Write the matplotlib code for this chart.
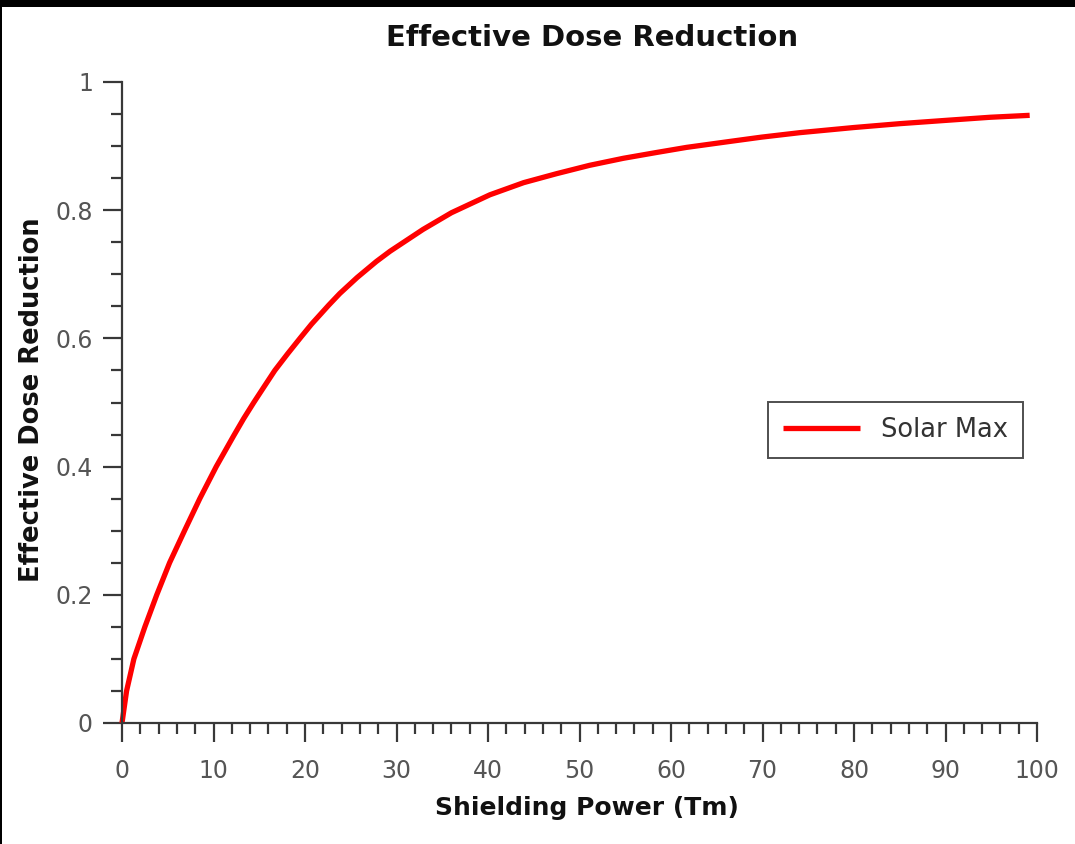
import matplotlib
matplotlib.use("Agg")
import matplotlib.pyplot as plt
from matplotlib.patches import Rectangle
from matplotlib.ticker import MultipleLocator, FuncFormatter

# Shielding power (Tm) vs. effective dose reduction, solar maximum
shielding = [0, 0.5, 1.3, 2.5, 3.8, 5.2, 6.9, 8.5, 10.3, 12.2, 13.3, 14.4, 15.5,
             16.7, 18.1, 19.5, 20.7, 22.6, 23.8, 25.7, 27.8, 29.3, 32.9, 36.0,
             40.2, 43.9, 47.5, 51.1, 54.8, 58.4, 61.7, 66.8, 69.9, 74.1, 80.0,
             85.0, 89.9, 94.9, 99.2]
dose_reduction = [0, 0.05, 0.10, 0.15, 0.20, 0.25, 0.302, 0.35, 0.40, 0.448, 0.475,
                  0.500, 0.524, 0.550, 0.576, 0.601, 0.622, 0.652, 0.670, 0.695,
                  0.720, 0.736, 0.770, 0.796, 0.824, 0.843, 0.857, 0.870, 0.881,
                  0.890, 0.898, 0.908, 0.914, 0.921, 0.929, 0.935, 0.940, 0.945,
                  0.948]
series_name = "Solar Max"

plt.rcParams['font.family'] = ['DejaVu Sans']

fig = plt.figure(figsize=(10.75, 8.44), dpi=100)
fig.patch.set_facecolor('white')
ax = fig.add_axes([122/1075, 1 - 723/844, (1037 - 122)/1075, (723 - 82)/844])

ax.plot(shielding, dose_reduction, color='#ff0000', lw=3.8, label=series_name,
        solid_joinstyle='round', solid_capstyle='butt', clip_on=False)

ax.set_xlim(0, 100)
ax.set_ylim(0, 1)
ax.xaxis.set_major_locator(MultipleLocator(10))
ax.xaxis.set_minor_locator(MultipleLocator(2))
ax.yaxis.set_major_locator(MultipleLocator(0.2))
ax.yaxis.set_minor_locator(MultipleLocator(0.05))
ax.yaxis.set_major_formatter(FuncFormatter(lambda v, p: '{:g}'.format(round(v, 2))))

for side in ['top', 'right']:
    ax.spines[side].set_visible(False)
for side in ['left', 'bottom']:
    ax.spines[side].set_color('#383838')
    ax.spines[side].set_linewidth(1.6)

ax.tick_params(which='major', direction='out', length=14, width=1.6,
               color='#383838', labelsize=17, labelcolor='#555555')
ax.tick_params(axis='x', which='major', pad=12)
ax.tick_params(axis='y', which='major', pad=7)
ax.tick_params(which='minor', direction='out', length=8, width=1.6,
               color='#383838')

leg = ax.legend(loc='center left', bbox_to_anchor=(0.706, 0.457), fontsize=18.5,
                frameon=True, fancybox=False, shadow=False, handlelength=3.0,
                borderpad=0.6, handletextpad=0.8, borderaxespad=0)
leg.get_frame().set_edgecolor('#222222')
leg.get_frame().set_linewidth(1.4)
for t in leg.get_texts():
    t.set_color('#333333')

fig.text(592/1075, 1 - 38/844, "Effective Dose Reduction", ha='center', va='center',
         fontsize=21, fontweight='bold', color='#111111')
fig.text(587/1075, 1 - 808/844, "Shielding Power (Tm)", ha='center', va='center',
         fontsize=18, fontweight='bold', color='#111111')
fig.text(32/1075, 1 - 400/844, "Effective Dose Reduction", ha='center', va='center',
         rotation=90, fontsize=18.5, fontweight='bold', color='#111111')

# dark band along the top edge and a thin dark left edge
fig.add_artist(Rectangle((0, 1 - 7/844), 1, 7/844, transform=fig.transFigure,
                         facecolor='black', edgecolor='none'))
fig.add_artist(Rectangle((0, 0), 2/1075, 1, transform=fig.transFigure,
                         facecolor='black', edgecolor='none'))

fig.savefig('out.png', dpi=100)
